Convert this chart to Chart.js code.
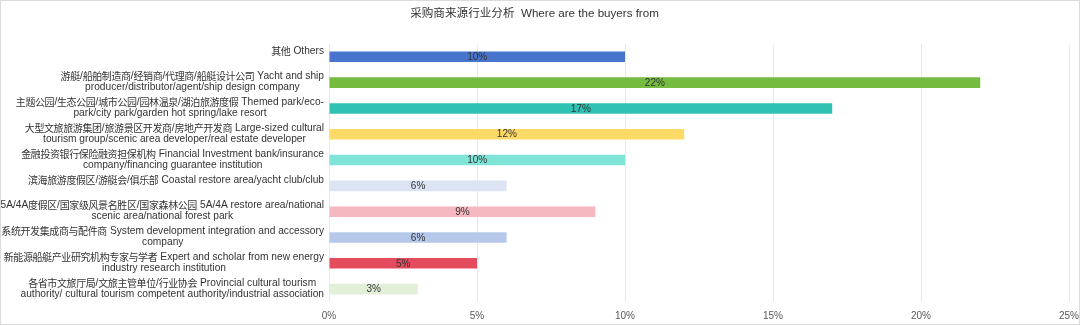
<!DOCTYPE html>
<html>
<head>
<meta charset="utf-8">
<script src="https://cdn.jsdelivr.net/npm/chart.js@4.4.1/dist/chart.umd.min.js"></script>
<style>
  body { margin: 0; background: #fff; }
  #wrap { position: relative; width: 1080px; height: 325px; }
  #frame { position: absolute; left: 0; top: 0; width: 1078px; height: 323px; border: 1px solid #dcdcdc; pointer-events: none; }
</style>
</head>
<body>
<div id="wrap">
  <canvas id="buyersChart" width="1080" height="325"></canvas>
  <div id="frame"></div>
</div>
<script>
// buyer sectors, each split into the lines it is printed on
const categories = [
  ['其他 Others'],
  ['游艇/船舶制造商/经销商/代理商/船艇设计公司 Yacht and ship', 'producer/distributor/agent/ship design company'],
  ['主题公园/生态公园/城市公园/园林温泉/湖泊旅游度假 Themed park/eco-', 'park/city park/garden hot spring/lake resort'],
  ['大型文旅旅游集团/旅游景区开发商/房地产开发商 Large-sized cultural', 'tourism group/scenic area developer/real estate developer'],
  ['金融投资银行保险融资担保机构 Financial Investment bank/insurance', 'company/financing guarantee institution'],
  ['滨海旅游度假区/游艇会/俱乐部 Coastal restore area/yacht club/club'],
  ['5A/4A度假区/国家级风景名胜区/国家森林公园 5A/4A restore area/national', 'scenic area/national forest park'],
  ['系统开发集成商与配件商 System development integration and accessory', 'company'],
  ['新能源船艇产业研究机构专家与学者 Expert and scholar from new energy', 'industry research institution'],
  ['各省市文旅厅局/文旅主管单位/行业协会 Provincial cultural tourism', 'authority/ cultural tourism competent authority/industrial association']
];

// share of buyers, percent
const shares = [10, 22, 17, 12, 10, 6, 9, 6, 5, 3];

const barColors = [
  '#4774cc', '#74bb40', '#2fc2b3', '#fdd965', '#80e3d8',
  '#dce4f4', '#f5b8c1', '#b6c8ea', '#e44c5e', '#e2f0d9'
];

const xTicks = [0, 5, 10, 15, 20, 25];

const FONT = '"Liberation Sans", "Noto Sans CJK SC", sans-serif';
Chart.defaults.font.family = FONT;

// Chinese characters are set a little tighter than their full width
const CJK_RE = /[\u3000-\u9fff\uff00-\uffef]/;
const LATIN_FONT = '10.2px "Liberation Sans"';
const CJK_FONT = '10px "Noto Sans CJK SC"';
const CJK_ADVANCE = 9.6;

function splitRuns(text) {
  const runs = [];
  for (const ch of text) {
    const cjk = CJK_RE.test(ch);
    const last = runs[runs.length - 1];
    if (last && last.cjk === cjk) last.t += ch;
    else runs.push({ t: ch, cjk });
  }
  return runs;
}

function runWidth(ctx, r) {
  if (r.cjk) return [...r.t].length * CJK_ADVANCE;
  ctx.font = LATIN_FONT;
  return ctx.measureText(r.t).width;
}

function measureLine(ctx, text) {
  return splitRuns(text).reduce((w, r) => w + runWidth(ctx, r), 0);
}

function drawLine(ctx, text, x, y) {
  splitRuns(text).forEach(r => {
    if (r.cjk) {
      ctx.font = CJK_FONT;
      for (const ch of r.t) {
        ctx.fillText(ch, x - 0.2, y);
        x += CJK_ADVANCE;
      }
    } else {
      ctx.font = LATIN_FONT;
      ctx.fillText(r.t, x, y);
      x += ctx.measureText(r.t).width;
    }
  });
}

// category names drawn by hand: block right-aligned, lines centred in the block
const categoryLabels = {
  id: 'categoryLabels',
  afterDraw(chart) {
    const { ctx, chartArea, scales: { y } } = chart;
    ctx.save();
    ctx.fillStyle = '#333333';
    ctx.textAlign = 'left';
    ctx.textBaseline = 'middle';
    const right = chartArea.left - 5;
    categories.forEach((lines, i) => {
      const yc = y.getPixelForTick(i);
      const widths = lines.map(l => measureLine(ctx, l));
      const cx = right - Math.max(...widths) / 2;
      lines.forEach((l, j) => drawLine(ctx, l, cx - widths[j] / 2, yc - 6 + j * 11));
    });
    ctx.restore();
  }
};

// percentage printed in the middle of each bar
const valueLabels = {
  id: 'valueLabels',
  afterDatasetsDraw(chart) {
    const { ctx } = chart;
    const meta = chart.getDatasetMeta(0);
    ctx.save();
    ctx.font = '10px ' + FONT;
    ctx.fillStyle = '#333333';
    ctx.textAlign = 'center';
    ctx.textBaseline = 'middle';
    meta.data.forEach((bar, i) => {
      const { x, y, base } = bar.getProps(['x', 'y', 'base'], true);
      ctx.fillText(shares[i] + '%', (x + base) / 2, y + 0.5);
    });
    ctx.restore();
  }
};

new Chart(document.getElementById('buyersChart').getContext('2d'), {
  type: 'bar',
  data: {
    labels: categories,
    datasets: [{
      data: shares,
      backgroundColor: barColors,
      borderWidth: 0,
      categoryPercentage: 1,
      barPercentage: 0.41
    }]
  },
  options: {
    indexAxis: 'y',
    responsive: false,
    animation: false,
    layout: { padding: { top: 0, right: 11, bottom: 0, left: 0 } },
    plugins: {
      legend: { display: false },
      tooltip: { enabled: false },
      title: {
        display: true,
        text: '采购商来源行业分析  Where are the buyers from',
        color: '#333333',
        font: { size: 11.6, weight: 'normal' },
        padding: { top: 7, bottom: 23 }
      }
    },
    scales: {
      x: {
        min: 0,
        max: 25,
        afterBuildTicks: s => { s.ticks = xTicks.map(v => ({ value: v })); },
        afterFit: s => { s.height = 23; s.paddingRight = 11; },
        grid: { color: '#e8e8e8', drawTicks: false },
        border: { display: false },
        ticks: {
          color: '#595959',
          font: { size: 10 },
          padding: 8,
          maxRotation: 0,
          callback: v => v + '%'
        }
      },
      y: {
        grid: { display: false },
        border: { display: false },
        ticks: { display: false },
        afterFit: s => { s.width = 329; }
      }
    }
  },
  plugins: [categoryLabels, valueLabels]
});
</script>
</body>
</html>
